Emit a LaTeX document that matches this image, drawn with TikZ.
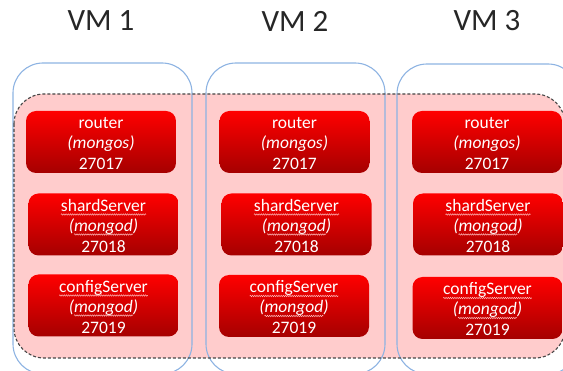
\documentclass[tikz,border=0pt]{standalone}
\usepackage{fontspec}
\setmainfont{Carlito}
\usetikzlibrary{decorations.pathmorphing}
\definecolor{pinkfill}{RGB}{255,204,204}
\definecolor{vmblue}{RGB}{141,179,226}
\definecolor{dashgray}{RGB}{70,70,70}
\definecolor{titlegray}{RGB}{38,38,38}
\definecolor{redtop}{RGB}{255,0,0}
\definecolor{redmid}{RGB}{236,0,0}
\definecolor{redbot}{RGB}{165,0,0}
\definecolor{squigcol}{RGB}{255,185,185}
\tikzset{
  vmbox/.style={draw=vmblue, line width=1.1pt, rounded corners=30pt},
  zonebox/.style={draw=dashgray, line width=1.1pt, dash pattern=on 3pt off 2pt, rounded corners=30pt},
  srvbox/.style={rectangle, rounded corners=10pt, minimum width=150pt, minimum height=62pt,
    top color=redtop, middle color=redmid, bottom color=redbot, shading angle=0, inner sep=0pt},
  srvtext/.style={text=white, inner sep=0pt, outer sep=0pt, anchor=base, font=\fontsize{17.5}{20}\selectfont},
  squigline/.style={squigcol, line width=0.5pt, decorate, decoration={snake, segment length=2.2pt, amplitude=0.7pt}},
  vmtitle/.style={text=titlegray, font=\fontsize{31}{36}\selectfont, inner sep=0pt}
}
% router box: name, position, port
\newcommand{\routerbox}[3]{%
  \node[srvbox] (#1) at (#2) {};
  \node[srvtext] (#1-a) at ([yshift=13pt]#1.center) {router};
  \node[srvtext] (#1-b) at ([yshift=-7pt]#1.center) {\textit{(mongos)}};
  \node[srvtext] (#1-c) at ([yshift=-28pt]#1.center) {#3};
}
% mongod box: name, position, title, port
\newcommand{\mongodbox}[4]{%
  \node[srvbox] (#1) at (#2) {};
  \node[srvtext] (#1-a) at ([yshift=13pt]#1.center) {#3};
  \node[srvtext] (#1-b) at ([yshift=-7pt]#1.center) {\textit{mongod}};
  \node[srvtext, anchor=base east] (#1-l) at (#1-b.base west) {\textit{(}};
  \node[srvtext, anchor=base west] (#1-r) at (#1-b.base east) {\textit{)}};
  \node[srvtext] (#1-c) at ([yshift=-28pt]#1.center) {#4};
  \draw[squigline] ([yshift=-3pt]#1-a.base west) -- ([yshift=-3pt]#1-a.base east);
  \draw[squigline] ([yshift=-3pt]#1-b.base west) -- ([yshift=-3pt]#1-b.base east);
}
\begin{document}
\begin{tikzpicture}[x=1pt,y=-1pt]
\useasboundingbox (0,0) rectangle (563,371);
\clip (0,0) rectangle (563,371);
% zone fill
\fill[pinkfill, rounded corners=30pt] (14,94) rectangle (565,358);
% VM boxes
\draw[vmbox] (13,63) rectangle (192,374);
\draw[vmbox] (206,63) rectangle (385,374);
\draw[vmbox] (397,64) rectangle (578,374);
% zone outline
\draw[zonebox] (14,94) rectangle (565,358);
% titles
\node[vmtitle] (t1) at (101,21) {VM 1};
\node[vmtitle] (t2) at (295,21) {VM 2};
\node[vmtitle] (t3) at (487,21) {VM 3};
% VM1
\routerbox{r1}{101,142}{27017}
\mongodbox{s1}{103.5,224.5}{shardServer}{27018}
\mongodbox{c1}{103.5,305.5}{configServer}{27019}
% VM2
\routerbox{r2}{294.5,142}{27017}
\mongodbox{s2}{296.5,224.5}{shardServer}{27018}
\mongodbox{c2}{294,306}{configServer}{27019}
% VM3
\routerbox{r3}{487,142}{27017}
\mongodbox{s3}{488,224.5}{shardServer}{27018}
\mongodbox{c3}{487.5,308}{configServer}{27019}
\end{tikzpicture}
\end{document}
